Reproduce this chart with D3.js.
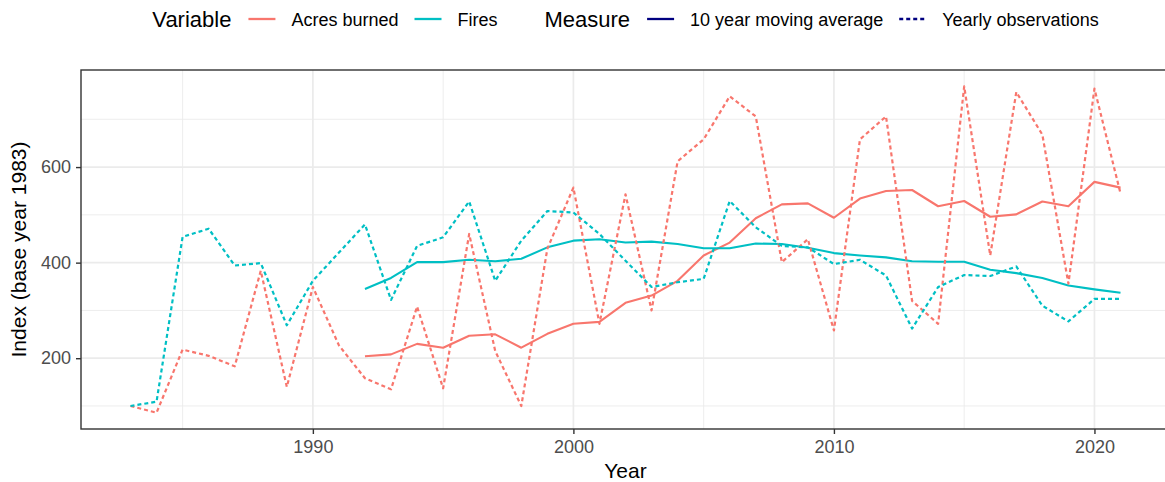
<!DOCTYPE html>
<html>
<head>
<meta charset="utf-8">
<script src="https://cdn.jsdelivr.net/npm/d3@7"></script>
<style>
  html, body { margin: 0; padding: 0; background: #ffffff; }
  svg { display: block; font-family: "Liberation Sans", Arial, Helvetica, sans-serif; }
</style>
</head>
<body>
<svg id="chart" width="1165" height="482"></svg>
<script>
// Wildfire index, base year 1983 = 100
const years = [1983, 1984, 1985, 1986, 1987, 1988, 1989, 1990, 1991, 1992,
               1993, 1994, 1995, 1996, 1997, 1998, 1999, 2000, 2001, 2002,
               2003, 2004, 2005, 2006, 2007, 2008, 2009, 2010, 2011, 2012,
               2013, 2014, 2015, 2016, 2017, 2018, 2019, 2020, 2021];

const acresYearly = [100, 86, 218, 205, 183, 383, 140, 349, 227, 158,
                     135, 308, 137, 460, 215, 100, 429, 557, 272, 543,
                     300, 612, 658, 748, 706, 401, 449, 258, 658, 706,
                     320, 272, 769, 415, 757, 668, 356, 764, 545];

const firesYearly = [100, 109, 454, 471, 394, 399, 269, 362, 421, 480,
                     322, 435, 453, 528, 362, 446, 508, 505, 460, 404,
                     349, 359, 366, 529, 474, 435, 432, 397, 406, 373,
                     262, 349, 374, 372, 392, 310, 277, 324, 324];

// 10 year moving averages start in 1992
const maYears = [1992, 1993, 1994, 1995, 1996, 1997, 1998, 1999, 2000, 2001,
                 2002, 2003, 2004, 2005, 2006, 2007, 2008, 2009, 2010, 2011,
                 2012, 2013, 2014, 2015, 2016, 2017, 2018, 2019, 2020, 2021];

const acresMA = [204, 208, 230, 222, 247, 250, 222, 251, 272, 276,
                 316, 331, 362, 415, 442, 493, 522, 524, 494, 534,
                 550, 552, 518, 529, 496, 501, 528, 518, 569, 557];

const firesMA = [345, 368, 401, 401, 406, 403, 408, 432, 446, 449,
                 442, 444, 439, 430, 430, 440, 439, 431, 420, 415,
                 411, 403, 402, 402, 385, 378, 368, 352, 344, 337];

const xTicks = [1990, 2000, 2010, 2020];
const xMinor = [1985, 1995, 2005, 2015];
const yTicks = [200, 400, 600];
const yMinor = [100, 300, 500, 700];

const variables = ["Acres burned", "Fires"];
const measures = ["10 year moving average", "Yearly observations"];
const varColors = { "Acres burned": "#F8766D", "Fires": "#00BFC4" };
const measureDash = { "10 year moving average": null, "Yearly observations": "4,3" };
const legendKeyColor = "#000080";

// ---------------------------------------------------------------
const svg = d3.select("#chart");
const W = 1165, H = 482;
svg.append("rect").attr("width", W).attr("height", H).attr("fill", "#ffffff");

const panel = { left: 81, right: 1170, top: 70, bottom: 429 };

// ggplot-style 5% expansion of the data range
function expand(lo, hi) { const d = (hi - lo) * 0.05; return [lo - d, hi + d]; }

const allValues = acresYearly.concat(firesYearly, acresMA, firesMA);
const x = d3.scaleLinear()
  .domain(expand(d3.min(years), d3.max(years)))
  .range([panel.left, panel.right]);
const y = d3.scaleLinear()
  .domain(expand(d3.min(allValues), d3.max(allValues)))
  .range([panel.bottom, panel.top]);

const defs = svg.append("defs");
defs.append("clipPath").attr("id", "panelClip")
  .append("rect")
  .attr("x", panel.left).attr("y", panel.top)
  .attr("width", panel.right - panel.left).attr("height", panel.bottom - panel.top);

const grid = svg.append("g").attr("clip-path", "url(#panelClip)");

// minor grid
grid.selectAll("line.xminor").data(xMinor).join("line")
  .attr("x1", d => x(d)).attr("x2", d => x(d))
  .attr("y1", panel.top).attr("y2", panel.bottom)
  .attr("stroke", "#EBEBEB").attr("stroke-width", 0.9);
grid.selectAll("line.yminor").data(yMinor).join("line")
  .attr("y1", d => y(d)).attr("y2", d => y(d))
  .attr("x1", panel.left).attr("x2", panel.right)
  .attr("stroke", "#EBEBEB").attr("stroke-width", 0.9);
// major grid
grid.selectAll("line.xmajor").data(xTicks).join("line")
  .attr("x1", d => x(d)).attr("x2", d => x(d))
  .attr("y1", panel.top).attr("y2", panel.bottom)
  .attr("stroke", "#EBEBEB").attr("stroke-width", 1.7);
grid.selectAll("line.ymajor").data(yTicks).join("line")
  .attr("y1", d => y(d)).attr("y2", d => y(d))
  .attr("x1", panel.left).attr("x2", panel.right)
  .attr("stroke", "#EBEBEB").attr("stroke-width", 1.7);

// series
const series = [
  { variable: "Acres burned", measure: "10 year moving average", xs: maYears, vs: acresMA },
  { variable: "Fires", measure: "10 year moving average", xs: maYears, vs: firesMA },
  { variable: "Acres burned", measure: "Yearly observations", xs: years, vs: acresYearly },
  { variable: "Fires", measure: "Yearly observations", xs: years, vs: firesYearly }
];

const line = d3.line().x(d => x(d[0])).y(d => y(d[1]));
const marks = svg.append("g").attr("clip-path", "url(#panelClip)");
series.forEach(s => {
  marks.append("path")
    .datum(s.xs.map((yr, i) => [yr, s.vs[i]]))
    .attr("d", line)
    .attr("fill", "none")
    .attr("stroke", varColors[s.variable])
    .attr("stroke-width", s.measure === "Yearly observations" ? 2.2 : 2.1)
    .attr("stroke-linejoin", "round")
    .attr("stroke-dasharray", measureDash[s.measure]);
});

// panel border
svg.append("rect")
  .attr("x", panel.left).attr("y", panel.top)
  .attr("width", panel.right - panel.left).attr("height", panel.bottom - panel.top)
  .attr("fill", "none").attr("stroke", "#333333").attr("stroke-width", 1.4);

// axes
const xAxis = d3.axisBottom(x).tickValues(xTicks).tickFormat(d3.format("d"))
  .tickSize(5).tickPadding(6);
const gx = svg.append("g").attr("transform", `translate(0,${panel.bottom})`).call(xAxis);
gx.select(".domain").remove();
gx.selectAll(".tick line").attr("stroke", "#333333").attr("stroke-width", 1.4);
gx.selectAll(".tick text").attr("fill", "#4D4D4D").style("font-size", "18px")
  .style("font-family", "Liberation Sans, Arial, sans-serif");

const yAxis = d3.axisLeft(y).tickValues(yTicks).tickFormat(d3.format("d"))
  .tickSize(5).tickPadding(5);
const gy = svg.append("g").attr("transform", `translate(${panel.left},0)`).call(yAxis);
gy.select(".domain").remove();
gy.selectAll(".tick line").attr("stroke", "#333333").attr("stroke-width", 1.4);
gy.selectAll(".tick text").attr("fill", "#4D4D4D").style("font-size", "18px")
  .style("font-family", "Liberation Sans, Arial, sans-serif");

// axis titles
svg.append("text")
  .attr("x", (panel.left + panel.right) / 2).attr("y", 478)
  .attr("text-anchor", "middle").attr("fill", "#000")
  .style("font-size", "21px").text("Year");
svg.append("text")
  .attr("transform", `translate(26,${(panel.top + panel.bottom) / 2}) rotate(-90)`)
  .attr("text-anchor", "middle").attr("fill", "#000")
  .style("font-size", "21px").text("Index (base year 1983)");

// legend (centred on the panel)
const legend = svg.append("g");
const legendY = 19;
const keyW = 27;
const items = [];
items.push({ type: "title", text: "Variable" });
variables.forEach(v => items.push({ type: "key", text: v, color: varColors[v], dash: null }));
items.push({ type: "title", text: "Measure", gapBefore: 47 });
measures.forEach(m => items.push({ type: "key", text: m, color: legendKeyColor, dash: measureDash[m] }));

let cx = 0;
items.forEach((it, i) => {
  const g = legend.append("g");
  if (i > 0) cx += it.type === "title" ? it.gapBefore : (items[i - 1].type === "title" ? 17 : 16);
  if (it.type === "title") {
    const t = g.append("text").attr("x", cx).attr("y", legendY + 8)
      .attr("fill", "#000").style("font-size", "22px").text(it.text);
    cx += t.node().getComputedTextLength();
  } else {
    g.append("line")
      .attr("x1", cx).attr("x2", cx + keyW)
      .attr("y1", legendY).attr("y2", legendY)
      .attr("stroke", it.color).attr("stroke-width", 2.3)
      .attr("stroke-dasharray", it.dash);
    cx += keyW + 16;
    const t = g.append("text").attr("x", cx).attr("y", legendY + 6.5)
      .attr("fill", "#000").style("font-size", "18px").text(it.text);
    cx += t.node().getComputedTextLength();
  }
});
const totalW = cx;
legend.attr("transform", `translate(${(panel.left + panel.right) / 2 - totalW / 2},0)`);
</script>
</body>
</html>
